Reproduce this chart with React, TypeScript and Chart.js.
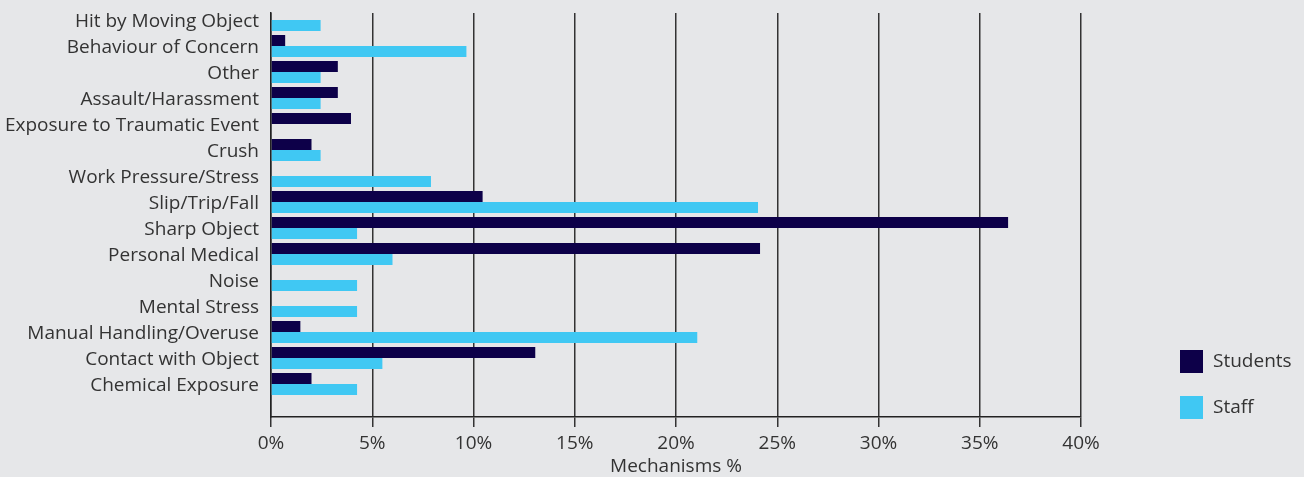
import { useEffect, useRef } from "react"
import { Chart, registerables } from "chart.js"

Chart.register(...registerables)

// Mechanism categories, top to bottom
const categories = [
  "Hit by Moving Object",
  "Behaviour of Concern",
  "Other",
  "Assault/Harassment",
  "Exposure to Traumatic Event",
  "Crush",
  "Work Pressure/Stress",
  "Slip/Trip/Fall",
  "Sharp Object",
  "Personal Medical",
  "Noise",
  "Mental Stress",
  "Manual Handling/Overuse",
  "Contact with Object",
  "Chemical Exposure",
]

const studentValues = [0, 0.7, 3.3, 3.3, 3.95, 2.0, 0, 10.45, 36.4, 24.15, 0, 0, 1.45, 13.05, 2.0]
const staffValues = [2.45, 9.65, 2.45, 2.45, 0, 2.45, 7.9, 24.05, 4.25, 6.0, 4.25, 4.25, 21.05, 5.5, 4.25]

const xTicks = [0, 5, 10, 15, 20, 25, 30, 35, 40]

const FONT = "'Open Sans', 'Noto Sans', sans-serif"
const FONT_SIZE = 19
const TEXT = "#333333"
const STUDENTS = "#0d0049"
const STAFF = "#40c8f3"

// draws the legend at the lower right, beside the plot
const sideLegend = {
  id: "sideLegend",
  afterDraw(chart: Chart) {
    const { ctx, chartArea } = chart
    ctx.save()
    chart.data.datasets.forEach((ds, i) => {
      const x = chartArea.right + 99
      const y = chartArea.bottom - 67 + i * 46
      ctx.fillStyle = ds.backgroundColor as string
      ctx.fillRect(x, y, 23, 23)
      ctx.fillStyle = TEXT
      ctx.font = `${FONT_SIZE}px ${FONT}`
      ctx.textBaseline = "middle"
      ctx.textAlign = "left"
      ctx.fillText(ds.label || "", x + 33, y + 12)
    })
    ctx.restore()
  },
}

export default function App() {
  const chartRef = useRef<HTMLCanvasElement>(null)
  const chartInstance = useRef<Chart | null>(null)

  useEffect(() => {
    if (!chartRef.current) return
    if (chartInstance.current) chartInstance.current.destroy()

    const ctx = chartRef.current.getContext("2d")
    if (!ctx) return

    chartInstance.current = new Chart(ctx, {
      type: "bar",
      data: {
        datasets: [
          {
            label: "Students",
            data: categories.map((_, i) => ({ x: studentValues[i], y: i })),
            backgroundColor: STUDENTS,
            categoryPercentage: 0.846,
            barPercentage: 1,
          },
          {
            label: "Staff",
            data: categories.map((_, i) => ({ x: staffValues[i], y: i })),
            backgroundColor: STAFF,
            categoryPercentage: 0.846,
            barPercentage: 1,
          },
        ],
      },
      options: {
        indexAxis: "y",
        animation: false,
        responsive: true,
        maintainAspectRatio: false,
        layout: { padding: { top: 13, right: 223, left: 0, bottom: 0 } },
        plugins: {
          legend: { display: false },
          tooltip: { enabled: false },
        },
        scales: {
          x: {
            type: "linear",
            min: 0,
            max: 40,
            z: 1,
            afterBuildTicks: (s: any) => {
              s.ticks = xTicks.map((v) => ({ value: v }))
            },
            afterFit: (s: any) => {
              s.height = 60
            },
            ticks: {
              callback: (v: any) => `${v}%`,
              color: TEXT,
              font: { family: FONT, size: FONT_SIZE },
              padding: 5,
            },
            grid: { color: "#333333", lineWidth: 1.5, tickLength: 10, tickColor: "#333333" },
            border: { display: true, color: "#222222", width: 1.5 },
            title: {
              display: true,
              text: "Mechanisms %",
              color: TEXT,
              font: { family: FONT, size: FONT_SIZE, lineHeight: 1.1 },
              padding: { top: 0, bottom: 0 },
            },
          },
          y: {
            type: "linear",
            reverse: true,
            offset: false,
            bounds: "data",
            min: -0.27,
            max: 15.27,
            afterBuildTicks: (s: any) => {
              s.ticks = categories.map((_, i) => ({ value: i }))
            },
            afterFit: (s: any) => {
              s.width = 271
            },
            ticks: {
              autoSkip: false,
              callback: (_v: any, i: number) => categories[i],
              color: TEXT,
              font: { family: FONT, size: FONT_SIZE },
              padding: 0,
              labelOffset: 2,
            },
            grid: { display: false, offset: false, drawTicks: true, tickLength: 12 },
            border: { display: true, color: "#222222", width: 1.5 },
          },
        },
      },
      plugins: [sideLegend],
    })

    return () => {
      if (chartInstance.current) {
        chartInstance.current.destroy()
        chartInstance.current = null
      }
    }
  }, [])

  return (
    <div style={{ position: "fixed", left: 0, top: 0, width: 1304, height: 477, background: "#e6e7e9" }}>
      <canvas ref={chartRef} />
    </div>
  )
}
